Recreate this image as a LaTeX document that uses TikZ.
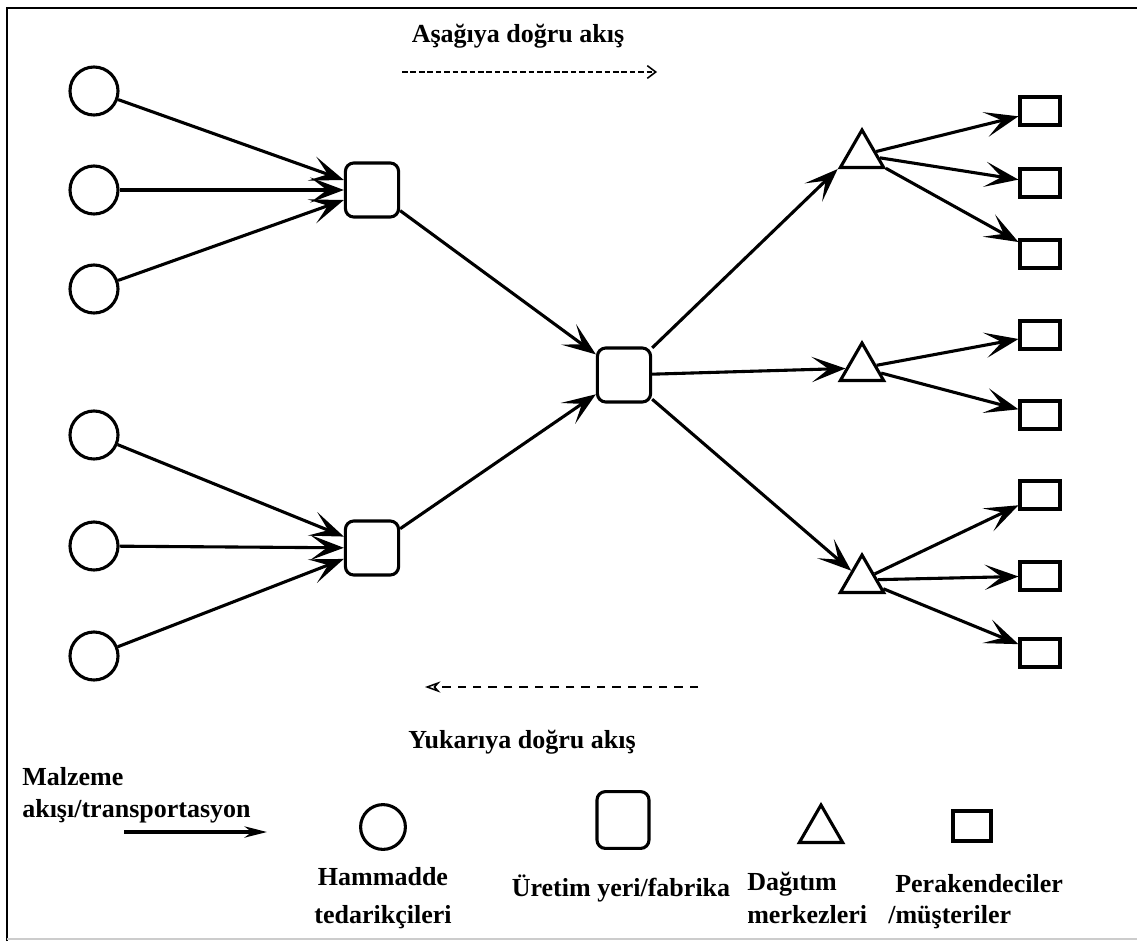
\documentclass[tikz,border=0pt]{standalone}
\usepackage{fontspec}
\setmainfont{Liberation Serif}
\usetikzlibrary{positioning, arrows.meta, shapes.geometric}

\tikzset{
    supplier/.style={circle, draw, line width=2.2pt, minimum size=1.2cm, inner sep=0pt},
    plant/.style={draw, rounded corners=6pt, line width=2.2pt, minimum width=1.33cm, minimum height=1.35cm, inner sep=0pt},
    hub/.style={regular polygon, regular polygon sides=3, draw, line width=2.2pt, minimum size=1.25cm, inner sep=0pt},
    retail/.style={draw, line width=2.2pt, minimum width=1cm, minimum height=0.7cm, inner sep=0pt},
    flow/.style={line width=2.2pt, -{Stealth[length=24pt,width=18pt,inset=12pt]}},
    lbl/.style={font=\fontsize{18.5}{21}\selectfont\bfseries, inner sep=0pt}
}

\begin{document}
\begin{tikzpicture}[x=0.025cm, y=-0.025cm]
    \useasboundingbox (0,0) rectangle (1137,941);
    \draw[line width=1.4pt] (7,941) -- (7,8) -- (1137,8);
    \draw[gray!40, line width=1.4pt] (7,939) -- (1137,939);

    % suppliers
    \node[supplier] (s1) at (94,91) {};
    \node[supplier] (s2) at (94,190) {};
    \node[supplier] (s3) at (94,289) {};
    \node[supplier] (s4) at (94,435) {};
    \node[supplier] (s5) at (94,546) {};
    \node[supplier] (s6) at (94,656) {};

    % plants
    \node[plant] (f1) at (372,190) {};
    \node[plant] (f2) at (372,548) {};
    \node[plant] (c) at (624,375) {};

    % distribution centres
    \node[hub] (d1) at (862,155) {};
    \node[hub] (d2) at (862,368) {};
    \node[hub] (d3) at (862,580) {};

    % retailers
    \node[retail] (r1) at (1040,111) {};
    \node[retail] (r2) at (1040,183) {};
    \node[retail] (r3) at (1040,254) {};
    \node[retail] (r4) at (1040,335) {};
    \node[retail] (r5) at (1040,415) {};
    \node[retail] (r6) at (1040,495) {};
    \node[retail] (r7) at (1040,576) {};
    \node[retail] (r8) at (1040,653) {};

    \draw[flow] (s1) -- (f1);
    \draw[flow] (s2) -- (f1);
    \draw[flow] (s3) -- (f1);
    \draw[flow] (s4) -- (f2);
    \draw[flow] (s5) -- (f2);
    \draw[flow] (s6) -- (f2);
    \draw[flow] (f1) -- (c);
    \draw[flow] (f2) -- (c);
    \draw[flow] (c) -- (d1.corner 2);
    \draw[flow] (c) -- (d2);
    \draw[flow] (c) -- (d3);
    \draw[flow] (d1) -- (r1);
    \draw[flow] (d1) -- (r2);
    \draw[flow] (d1) -- (r3);
    \draw[flow] (d2) -- (r4);
    \draw[flow] (d2) -- (r5);
    \draw[flow] (d3) -- (r6);
    \draw[flow] (d3) -- (r7);
    \draw[flow] (d3) -- (r8);

    % flow directions
    \node[lbl, anchor=base] (down) at (518,42) {Aşağıya doğru akış};
    \coordinate (downA) at (402,72);
    \coordinate (downB) at (657,72);
    \draw[line width=1.1pt, dash pattern=on 4pt off 2pt, -{Straight Barb[length=6pt,width=9pt]}] (downA) -- (downB);
    \coordinate (upA) at (698,687);
    \coordinate (upB) at (425,687);
    \draw[line width=1.1pt, dash pattern=on 6pt off 5pt, -{Stealth[open,length=11pt,width=8pt]}] (upA) -- (upB);
    \node[lbl, anchor=base] (up) at (522,748) {Yukarıya doğru akış};

    % legend
    \node[lbl, anchor=base west] (mat1) at (22,785) {Malzeme};
    \node[lbl, anchor=base west] (mat2) at (22,817) {akışı/transportasyon};
    \coordinate (legA) at (124,832);
    \coordinate (legB) at (267,832);
    \draw[line width=2.2pt, -{Stealth[length=16pt,width=8pt]}] (legA) -- (legB);

    \node[supplier, minimum size=1.12cm] (lsup) at (383,827) {};
    \node[plant, minimum width=1.3cm, minimum height=1.42cm] (lplant) at (623,820) {};
    \node[hub] (lhub) at (821,830) {};
    \node[retail, minimum width=0.95cm, minimum height=0.75cm] (lret) at (972,826) {};

    \node[lbl, anchor=base] (hm1) at (383,885) {Hammadde};
    \node[lbl, anchor=base] (hm2) at (383,923) {tedarikçileri};
    \node[lbl, anchor=base] (ur) at (621,896) {Üretim yeri/fabrika};
    \node[lbl, anchor=base west] (dm1) at (747,890) {Dağıtım};
    \node[lbl, anchor=base west] (dm2) at (747,923) {merkezleri};
    \node[lbl, anchor=base west] (pm1) at (895,892) {Perakendeciler};
    \node[lbl, anchor=base west] (pm2) at (888,923) {/müşteriler};
\end{tikzpicture}
\end{document}
